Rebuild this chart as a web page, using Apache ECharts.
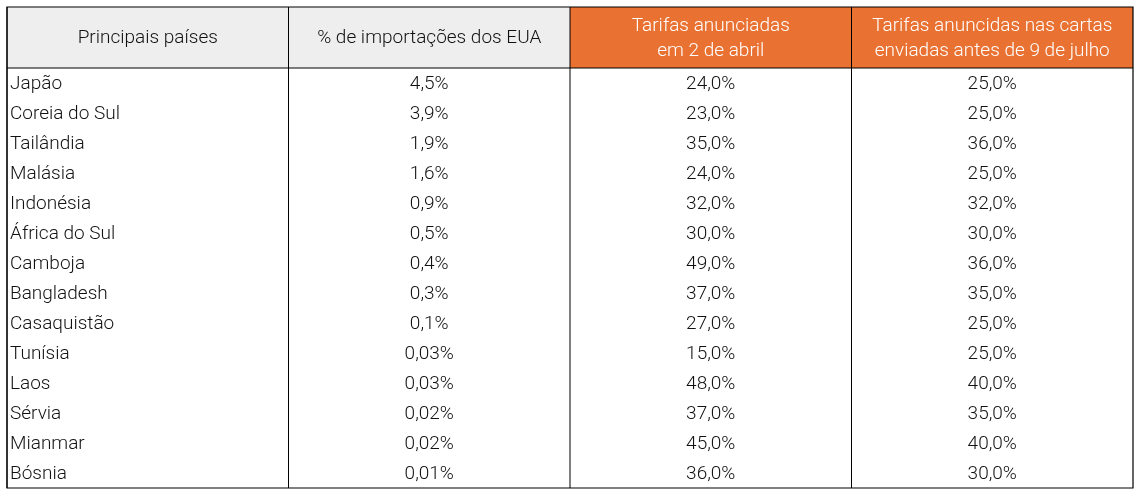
<!DOCTYPE html>
<html><head><meta charset="utf-8">
<script src="https://cdn.jsdelivr.net/npm/echarts@6/dist/echarts.min.js"></script>
<style>html,body{margin:0;background:#fff}#c{width:1140px;height:493px}</style>
</head><body><div id="c"></div>
<script>
const headers = ['Principais países', '% de importações dos EUA', 'Tarifas anunciadas\nem 2 de abril', 'Tarifas anuncidas nas cartas\nenviadas antes de 9 de julho'];
const countries = ['Japão','Coreia do Sul','Tailândia','Malásia','Indonésia','África do Sul','Camboja','Bangladesh','Casaquistão','Tunísia','Laos','Sérvia','Mianmar','Bósnia'];
const importShare = ['4,5%','3,9%','1,9%','1,6%','0,9%','0,5%','0,4%','0,3%','0,1%','0,03%','0,03%','0,02%','0,02%','0,01%'];
const tariffApril = ['24,0%','23,0%','35,0%','24,0%','32,0%','30,0%','49,0%','37,0%','27,0%','15,0%','48,0%','37,0%','45,0%','36,0%'];
const tariffJuly = ['25,0%','25,0%','36,0%','25,0%','32,0%','30,0%','36,0%','35,0%','25,0%','25,0%','40,0%','35,0%','40,0%','30,0%'];

const HEAD = 61, ROW = 30;
const columns = [countries, importShare, tariffApril, tariffJuly];
const cells = [];
headers.forEach((h, c) => cells.push([c, 0, HEAD, h, 1]));
columns.forEach((col, c) => col.forEach((v, r) => cells.push([c, HEAD + r * ROW, ROW, v, 0])));
const total = HEAD + countries.length * ROW;

const chart = echarts.init(document.getElementById('c'));
chart.setOption({
  animation: false,
  grid: { left: 7, right: 7, top: 7, bottom: 5 },
  xAxis: { type: 'value', min: 0, max: 4, show: false },
  yAxis: { type: 'value', min: 0, max: total, inverse: true, show: false },
  series: [{
    type: 'custom',
    data: cells,
    renderItem: (params, api) => {
      const c = api.value(0), y = api.value(1), h = api.value(2), isHead = api.value(4);
      const p0 = api.coord([c, y]), p1 = api.coord([c + 1, y + h]);
      const w = p1[0] - p0[0], hh = p1[1] - p0[1];
      const txt = cells[params.dataIndex][3];
      const orange = isHead && c >= 2;
      const left = !isHead && c === 0;
      return {
        type: 'group',
        children: [
          { type: 'rect', shape: { x: p0[0], y: p0[1], width: w, height: hh },
            style: { fill: isHead ? (orange ? '#e97132' : '#eeeeee') : '#fff', stroke: null } },
          { type: 'line', shape: { x1: p0[0], y1: p0[1], x2: p0[0], y2: p1[1] }, style: { stroke: '#000', lineWidth: 1 } },
          { type: 'text', style: {
              text: txt, x: left ? p0[0] + 3 : p0[0] + w / 2, y: p0[1] + hh / 2 + 1,
              align: left ? 'left' : 'center', verticalAlign: 'middle',
              font: '300 19px Roboto', lineHeight: 25, fill: orange ? '#fff' : '#111' } }
        ]
      };
    }
  }, {
    type: 'custom',
    data: [[0]],
    renderItem: (params, api) => {
      const a = api.coord([0, 0]), b = api.coord([4, total]), hb = api.coord([4, HEAD]);
      return { type: 'group', children: [
        { type: 'rect', shape: { x: a[0], y: a[1], width: b[0] - a[0], height: b[1] - a[1] }, style: { fill: null, stroke: '#000', lineWidth: 1.2 } },
        { type: 'line', shape: { x1: a[0], y1: hb[1], x2: b[0], y2: hb[1] }, style: { stroke: '#000', lineWidth: 1 } }
      ] };
    }
  }]
});
</script></body></html>
